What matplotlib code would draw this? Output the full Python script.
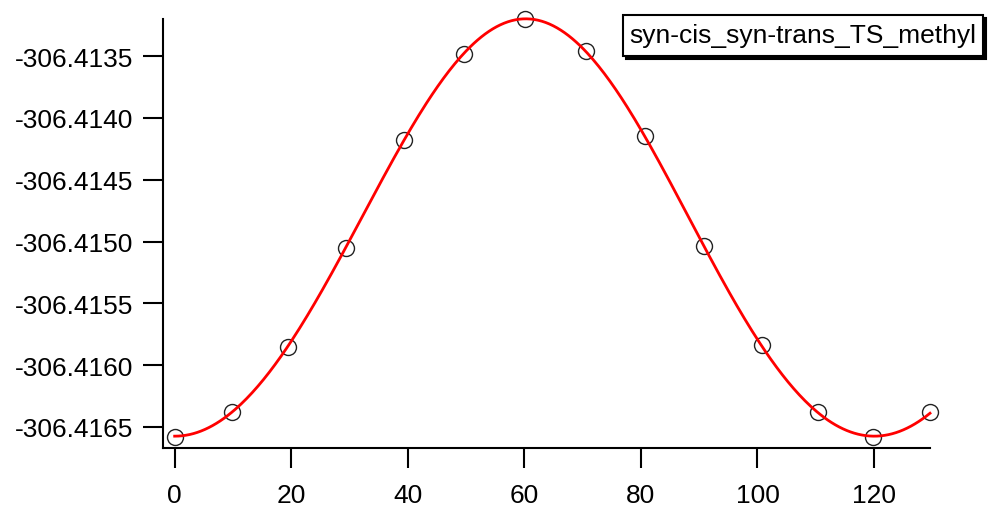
import numpy as np
import matplotlib
matplotlib.use("Agg")
import matplotlib.pyplot as plt
from matplotlib.patches import Rectangle

plt.rcParams["font.family"] = ["Liberation Sans", "DejaVu Sans"]

# dihedral scan: angle (deg) and total energy (hartree)
angle = [0.0, 9.8, 19.4, 29.4, 39.3, 49.6, 60.1, 70.5, 80.7, 90.8, 100.7, 110.4, 119.9, 129.6]
energy = [-306.41658, -306.41638, -306.41585, -306.41505, -306.41418, -306.41348,
          -306.41320, -306.41346, -306.41415, -306.41504, -306.41584, -306.41638,
          -306.41658, -306.41638]
series_name = "syn-cis_syn-trans_TS_methyl"

x = np.array(angle)
y = np.array(energy)

# least squares fit with threefold torsional terms
def basis(t):
    r = np.radians(t)
    return np.column_stack([np.ones_like(r), np.cos(3 * r), np.sin(3 * r),
                            np.cos(6 * r), np.sin(6 * r)])

y0 = y.mean()
coef, *_ = np.linalg.lstsq(basis(x), y - y0, rcond=None)
xfit = np.linspace(x.min(), x.max(), 400)
yfit = basis(xfit) @ coef + y0

W, H = 990, 510
fig = plt.figure(figsize=(W / 100, H / 100), dpi=100)
ax = fig.add_axes([163 / W, 61 / H, 767 / W, 429 / H])

ax.plot(x, y, "o", mfc="none", mec="#222222", mew=1.0, ms=11.5, zorder=2, clip_on=False)
ax.plot(xfit, yfit, "-", color="red", lw=2.0, zorder=3, clip_on=False)

ax.set_xlim(-2.0, 129.6)
ax.set_ylim(-306.41667, -306.41320)

ax.set_xticks([0, 20, 40, 60, 80, 100, 120])
yt = [-306.4135, -306.4140, -306.4145, -306.4150, -306.4155, -306.4160, -306.4165]
ax.set_yticks(yt)
ax.set_yticklabels(["%.4f" % v for v in yt])

for s in ["top", "right"]:
    ax.spines[s].set_visible(False)
for s in ["left", "bottom"]:
    ax.spines[s].set_linewidth(1.5)
ax.tick_params(direction="out", length=14.4, width=1.5, labelsize=19)
ax.tick_params(axis="y", pad=7)
ax.tick_params(axis="x", pad=11)

# text box with drop shadow (pixel layout, top-left origin)
bl, bt, br, bb = 623, 16, 983, 57
fig.patches.append(Rectangle(((bl + 3) / W, 1 - (bb + 3) / H), (br - bl) / W, (bb - bt) / H,
                             transform=fig.transFigure, fc="black", ec="black", lw=1.5, zorder=5))
fig.patches.append(Rectangle((bl / W, 1 - bb / H), (br - bl) / W, (bb - bt) / H,
                             transform=fig.transFigure, fc="white", ec="black", lw=1.5, zorder=6))
fig.text((bl + br) / 2 / W, 1 - (bt + bb) / 2 / H, series_name, ha="center", va="center",
         fontsize=19, color="black", zorder=7)

fig.savefig("out.png", dpi=100)
